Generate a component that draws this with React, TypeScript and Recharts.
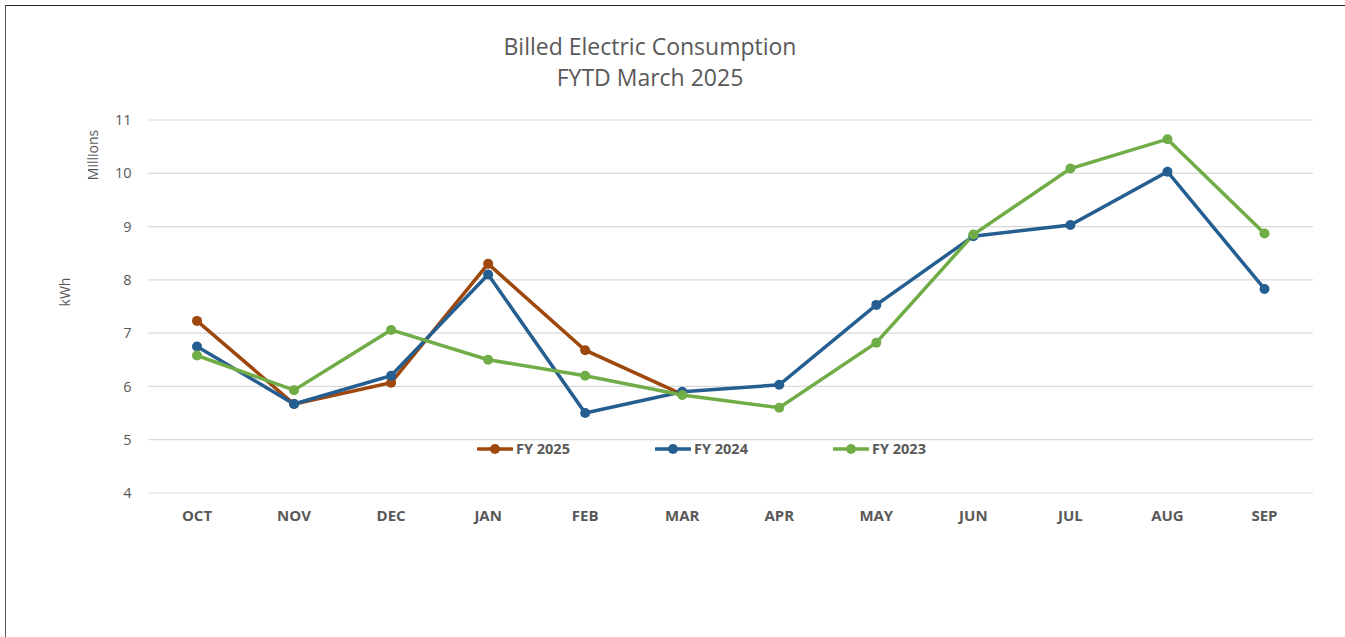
import React from 'react';
import { LineChart, Line, XAxis, YAxis, CartesianGrid, Customized } from 'recharts';

const months = ['OCT', 'NOV', 'DEC', 'JAN', 'FEB', 'MAR', 'APR', 'MAY', 'JUN', 'JUL', 'AUG', 'SEP'];
const fy2025 = [7.23, 5.67, 6.07, 8.3, 6.68, 5.85, null, null, null, null, null, null];
const fy2024 = [6.75, 5.67, 6.2, 8.1, 5.5, 5.9, 6.03, 7.53, 8.82, 9.03, 10.03, 7.83];
const fy2023 = [6.58, 5.93, 7.06, 6.5, 6.2, 5.84, 5.6, 6.82, 8.85, 10.09, 10.64, 8.87];
const yTicks = [4, 5, 6, 7, 8, 9, 10, 11];

const series = [
  { key: 'fy2025', name: 'FY 2025', color: '#9E480E' },
  { key: 'fy2024', name: 'FY 2024', color: '#255E91' },
  { key: 'fy2023', name: 'FY 2023', color: '#70AD47' },
];

const data = months.map((m, i) => ({ month: m, fy2025: fy2025[i], fy2024: fy2024[i], fy2023: fy2023[i] }));

const FONT = '"Open Sans", "Liberation Sans", sans-serif';
const GRAY = '#595959';

const LegendBox = () => (
  <div style={{ position: 'absolute', left: 477, top: 440, display: 'flex', fontFamily: FONT, fontWeight: 700, fontSize: 14.5, color: GRAY, lineHeight: '18px' }}>
    {series.map((s) => (
      <div key={s.key} style={{ display: 'flex', alignItems: 'center', width: 178 }}>
        <svg width={36} height={12} style={{ marginRight: 3 }}>
          <line x1={1} y1={6} x2={35} y2={6} stroke={s.color} strokeWidth={3.5} strokeLinecap="round" />
          <circle cx={18} cy={6} r={5} fill={s.color} />
        </svg>
        <span>{s.name}</span>
      </div>
    ))}
  </div>
);

const AxisTitles = () => (
  <g fontFamily={FONT} fontSize={14} fill={GRAY}>
    <text x={650} y={55} textAnchor="middle" fontSize={23}>Billed Electric Consumption</text>
    <text x={650} y={86} textAnchor="middle" fontSize={23}>FYTD March 2025</text>
    <text transform="translate(98,155) rotate(-90)" textAnchor="middle">Millions</text>
    <text transform="translate(70,292) rotate(-90)" textAnchor="middle">kWh</text>
  </g>
);

export default function App() {
  return (
    <div style={{ position: 'absolute', left: 0, top: 0, width: 1345, height: 637, background: '#fff', overflow: 'hidden' }}>
      <div style={{ position: 'absolute', left: 5, top: 5, width: 1345, height: 640, borderLeft: '1.5px solid #555', borderTop: '1.5px solid #222' }} />
      <LineChart width={1345} height={637} data={data} margin={{ top: 120, right: 32, bottom: 114, left: 0 }}>
        <CartesianGrid vertical={false} stroke="#d9d9d9" strokeWidth={1.2} />
        <XAxis dataKey="month" height={30} axisLine={false} tickLine={false} tickSize={0} tickMargin={17} padding={{ left: 48.5, right: 48.5 }}
          tick={{ fontFamily: FONT, fontSize: 15, fontWeight: 700, fill: GRAY }} interval={0} />
        <YAxis width={148.5} domain={[4, 11]} ticks={yTicks} axisLine={false} tickLine={false} tickSize={0} tickMargin={17}
          tick={{ fontFamily: FONT, fontSize: 14.5, fill: GRAY }} />
        {series.map((s) => (
          <Line key={s.key} type="linear" dataKey={s.key} name={s.name} stroke={s.color} strokeWidth={3.5}
            dot={{ r: 5, fill: s.color, stroke: s.color, strokeWidth: 0 }} activeDot={false}
            isAnimationActive={false} connectNulls={false} />
        ))}
        <Customized component={AxisTitles} />
      </LineChart>
      <LegendBox />
    </div>
  );
}
